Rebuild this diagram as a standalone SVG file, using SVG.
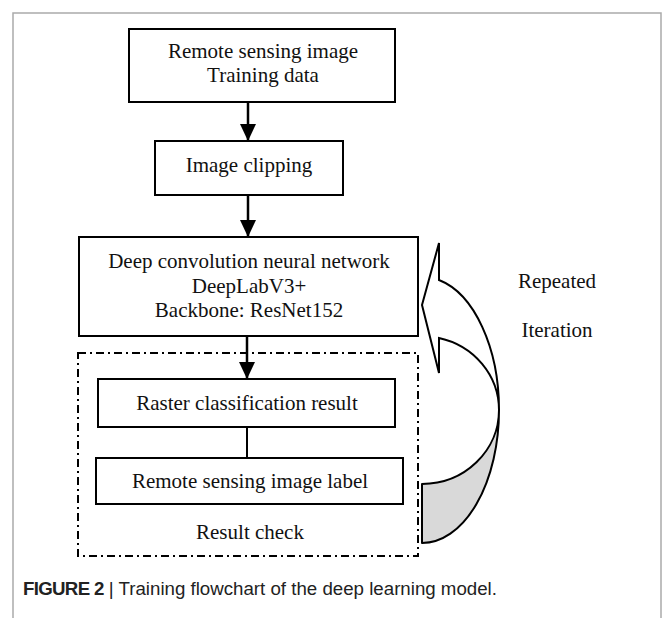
<svg xmlns="http://www.w3.org/2000/svg" width="663" height="618" viewBox="0 0 663 618">
<defs>
<style>
.box{fill:#fff;stroke:#000;stroke-width:2}
.t{font-family:"Liberation Serif","Times New Roman",serif;font-size:21px;fill:#111;text-anchor:middle}
.conn{stroke:#000;stroke-width:2.5;fill:none}
.cap{font-family:"Liberation Sans",Arial,sans-serif;font-size:18.7px;fill:#222}
</style>
<marker id="ah" markerUnits="userSpaceOnUse" markerWidth="18" markerHeight="18" viewBox="0 0 18 18" refX="17" refY="9" orient="auto">
<path d="M0,1 L17,9 L0,17 Z" fill="#000"/>
</marker>
</defs>
<rect width="663" height="618" fill="#fff"/>
<path d="M13,618 V13 H661 V618" fill="none" stroke="#aaa" stroke-width="1.5"/>

<g id="result-check">
<rect x="78" y="353" width="340" height="203" fill="none" stroke="#000" stroke-width="2" stroke-dasharray="8 4 2 4"/>
<text class="t" x="250" y="539">Result check</text>
</g>

<g id="connectors">
<line class="conn" x1="248" y1="102" x2="248" y2="141" marker-end="url(#ah)"/>
<line class="conn" x1="248" y1="195" x2="248" y2="237" marker-end="url(#ah)"/>
<line class="conn" x1="247" y1="336" x2="247" y2="379" marker-end="url(#ah)"/>
<line x1="247" y1="427" x2="247" y2="458" stroke="#000" stroke-width="2"/>
</g>

<g id="n-input">
<rect class="box" x="129" y="29" width="266" height="73"/>
<text class="t" x="263" y="58">Remote sensing image</text>
<text class="t" x="263" y="82">Training data</text>
</g>

<g id="n-clip">
<rect class="box" x="155" y="141" width="188" height="54"/>
<text class="t" x="249" y="172">Image clipping</text>
</g>

<g id="n-dcnn">
<rect class="box" x="79" y="237" width="339" height="99"/>
<text class="t" x="249" y="268">Deep convolution neural network</text>
<text class="t" x="249" y="293">DeepLabV3+</text>
<text class="t" x="249" y="317">Backbone: ResNet152</text>
</g>

<g id="n-raster">
<rect class="box" x="98" y="379" width="297" height="48"/>
<text class="t" x="247" y="410">Raster classification result</text>
</g>

<g id="n-label">
<rect class="box" x="96" y="458" width="307" height="46"/>
<text class="t" x="250" y="488">Remote sensing image label</text>
</g>

<g id="n-iteration">
<path d="M499,410 A77,74 0 0 1 422,484 L422,543 A77,133 0 0 0 499,410 Z" fill="#d9d9d9" stroke="#000" stroke-width="2" stroke-linejoin="round"/>
<path d="M439,280 A77,133 0 0 1 499,410 A77,74 0 0 0 439,338 L439,373 L422,305 L439,243 Z" fill="#fff" stroke="#000" stroke-width="2" stroke-linejoin="miter"/>
<text class="t" x="557" y="288">Repeated</text>
<text class="t" x="557" y="337">Iteration</text>
</g>

<g id="caption">
<text class="cap" x="23" y="595"><tspan font-weight="bold" letter-spacing="-0.7">FIGURE 2</tspan> | Training flowchart of the deep learning model.</text>
</g>
</svg>
